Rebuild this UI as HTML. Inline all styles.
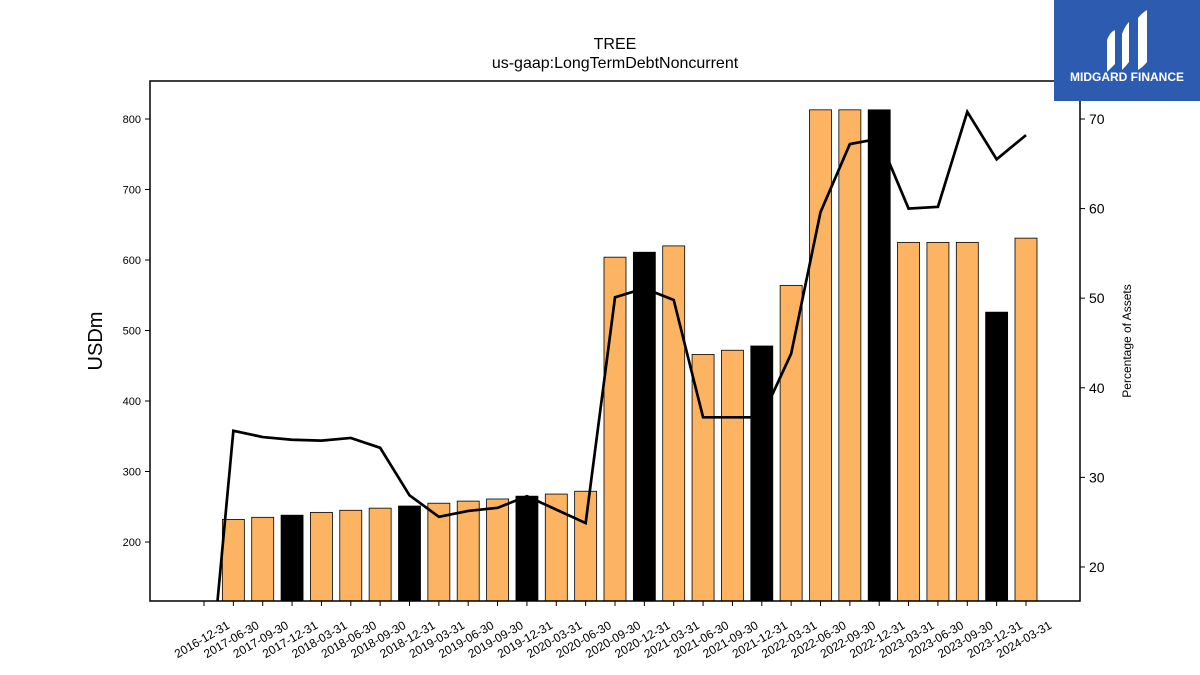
<!DOCTYPE html>
<html><head><meta charset="utf-8"><style>
html,body{margin:0;width:1200px;height:675px;overflow:hidden;background:#fff;font-family:"Liberation Sans","DejaVu Sans",sans-serif}
svg{display:block}
</style></head><body>
<svg id="chart" width="1200" height="675" xmlns="http://www.w3.org/2000/svg">
<rect width="1200" height="675" fill="#fff"/>
<text x="615" y="49" font-size="16" text-anchor="middle">TREE</text>
<text x="615" y="68" font-size="16" text-anchor="middle">us-gaap:LongTermDebtNoncurrent</text>
<g id="bars"></g><g id="line"></g>
<rect x="150" y="81" width="930" height="520" fill="none" stroke="#000" stroke-width="1.5"/>
<g id="axes" font-size="12"></g>
<text transform="translate(102,341) rotate(-90)" font-size="20" text-anchor="middle">USDm</text>
<text transform="translate(1131,341) rotate(-90)" font-size="12" text-anchor="middle">Percentage of Assets</text>
<g>
<rect x="1054" y="0" width="146" height="101" fill="#2c5bb0"/>
<path d="M1107 40 Q1110 32 1115 30 L1115 64 Q1111 68 1107 72 Z M1122 34 Q1125 26 1129 22 L1129 62 Q1126 66 1122 70 Z M1138 18 Q1142 13 1147 10 L1147 62 Q1143 67 1138 70 Z" fill="#fff"/>
<text x="1127" y="81" font-size="12" font-weight="bold" fill="#fff" text-anchor="middle">MIDGARD FINANCE</text>
</g>
</svg>
<script>
const categories=["2016-12-31","2017-06-30","2017-09-30","2017-12-31","2018-03-31","2018-06-30","2018-09-30","2018-12-31","2019-03-31","2019-06-30","2019-09-30","2019-12-31","2020-03-31","2020-06-30","2020-09-30","2020-12-31","2021-03-31","2021-06-30","2021-09-30","2021-12-31","2022-03-31","2022-06-30","2022-09-30","2022-12-31","2023-03-31","2023-06-30","2023-09-30","2023-12-31","2024-03-31"];
const debtValues=[null,232,235,238,242,245,248,251,255,258,261,265,268,272,604,611,620,466,472,478,564,813,813,813,625,625,625,526,631];
const pctValues=[0,35.2,34.5,34.2,34.1,34.4,33.3,28.0,25.6,26.25,26.6,27.9,26.4,24.9,50.1,51.1,49.8,36.7,36.7,36.7,43.8,59.6,67.2,67.8,60.0,60.2,70.8,65.5,68.2];
const leftTicks=[200,300,400,500,600,700,800];
const rightTicks=[20,30,40,50,60,70];
const NS="http://www.w3.org/2000/svg";
const L=150,R=1080,T=81,B=601;
const yL=v=>B-(v-116.3)/(853.9-116.3)*(B-T);
const yR=v=>B-(v-16.2)/(74.24-16.2)*(B-T);
const xS=i=>204+i*(1026-204)/(categories.length-1);
function mk(t,a,p){const e=document.createElementNS(NS,t);for(const k in a)e.setAttribute(k,a[k]);p.appendChild(e);return e;}
const bars=document.getElementById('bars'),line=document.getElementById('line'),axes=document.getElementById('axes');
debtValues.forEach((v,i)=>{if(v==null)return;
 const r=mk('rect',{x:xS(i)-11,y:yL(v),width:22,height:B-yL(v),fill:categories[i].endsWith('12-31')?'#000':'#fdb462',stroke:'#000','stroke-width':0.8},bars);
 
 });
const clip=mk('clipPath',{id:'cp'},line);mk('rect',{x:L,y:T,width:R-L,height:B-T},clip);
const pl=mk('polyline',{points:pctValues.map((v,i)=>xS(i)+','+yR(v)).join(' '),fill:'none',stroke:'#000','stroke-width':2.7,'clip-path':'url(#cp)'},line);


leftTicks.forEach(v=>{const y=yL(v);mk('line',{x1:L-5,x2:L,y1:y,y2:y,stroke:'#000'},axes);
 const t=mk('text',{x:L-9,y:y+4,'text-anchor':'end','font-size':11},axes);t.textContent=v;
 
 });
rightTicks.forEach(v=>{const y=yR(v);mk('line',{x1:R,x2:R+5,y1:y,y2:y,stroke:'#000'},axes);
 const t=mk('text',{x:R+9,y:y+5,'font-size':14},axes);t.textContent=v;
 
 });
categories.forEach((c,i)=>{const x=xS(i);mk('line',{x1:x,x2:x,y1:B,y2:B+5,stroke:'#000'},axes);
 const t=mk('text',{transform:`translate(${x},${B+42}) rotate(-30)`,'text-anchor':'middle','font-size':12},axes);t.textContent=c;
 
 });
</script>
</body></html>
